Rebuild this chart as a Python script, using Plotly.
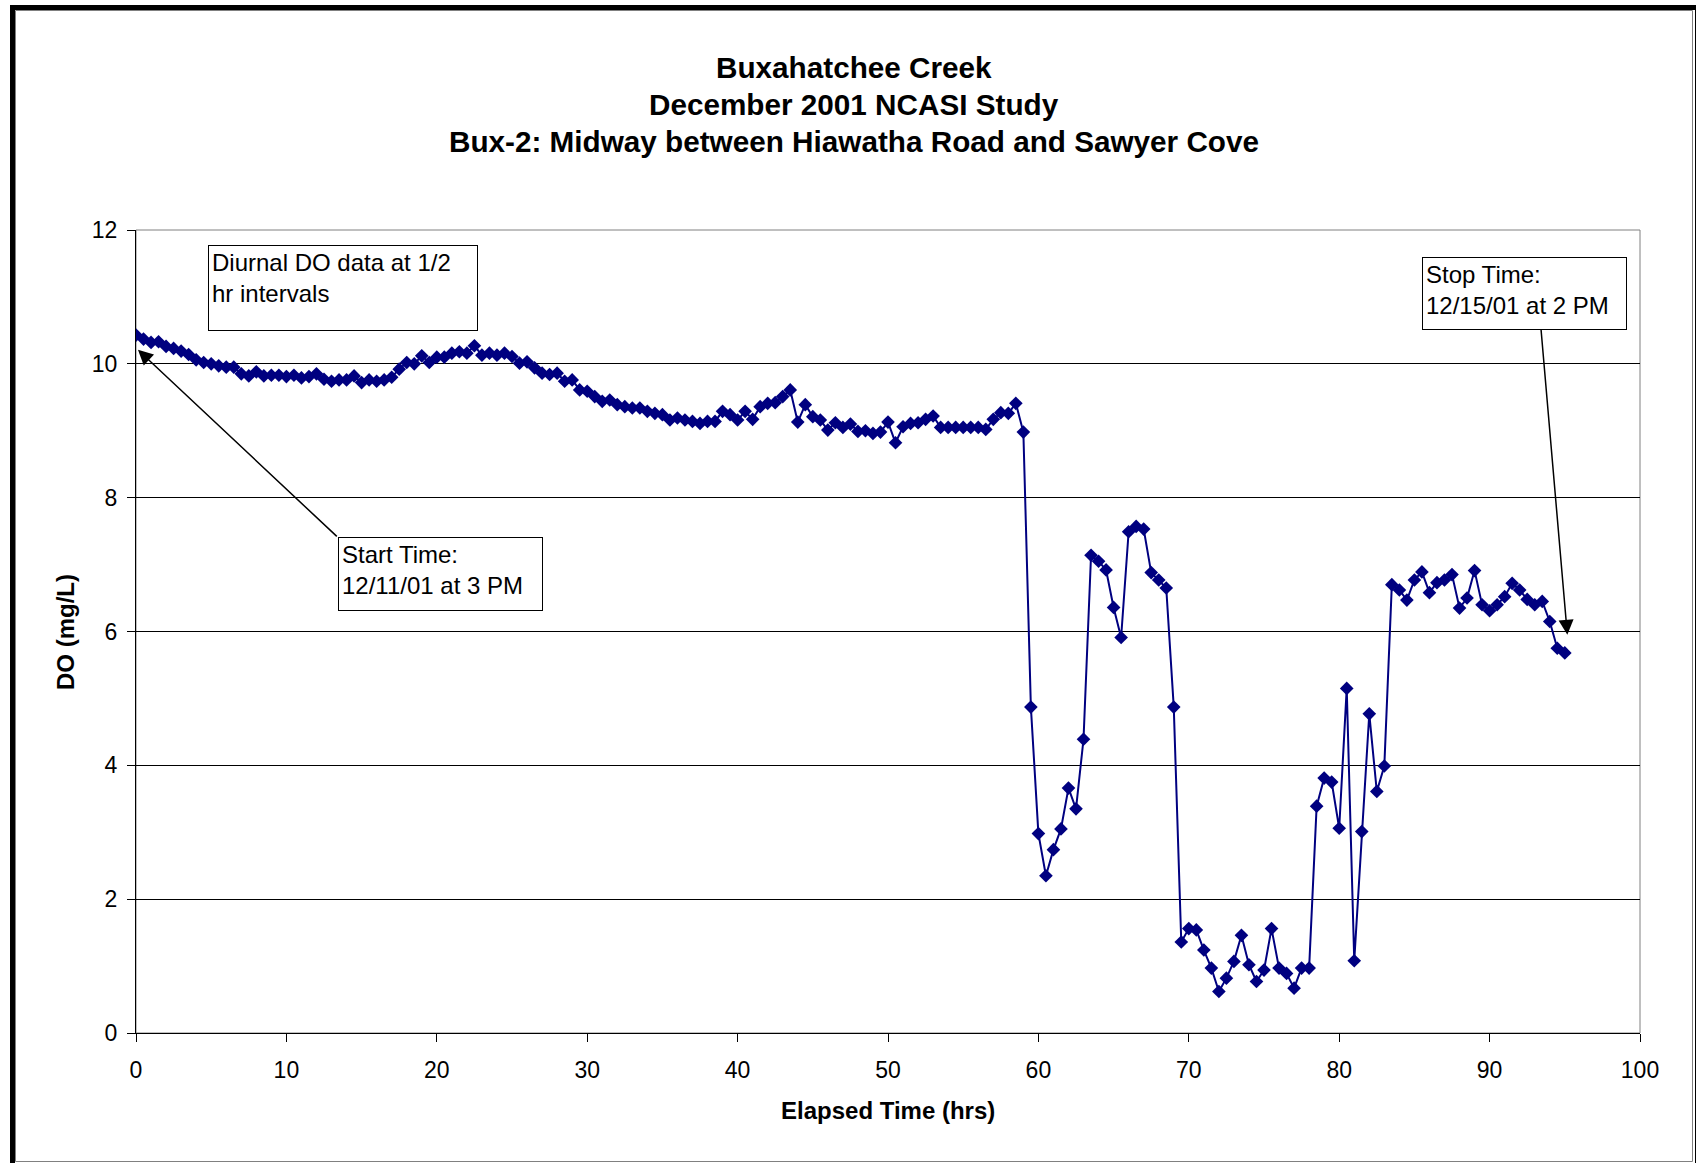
import plotly.graph_objects as go

# Dissolved oxygen logged every 1/2 hour at Bux-2, starting 12/11/01 3 PM
do_mg_l = [
    10.43, 10.37, 10.32, 10.33, 10.26, 10.23, 10.19, 10.14, 10.06, 10.02,
    10.00, 9.97, 9.95, 9.95, 9.85, 9.82, 9.88, 9.82, 9.83, 9.83,
    9.81, 9.83, 9.79, 9.81, 9.85, 9.77, 9.74, 9.76, 9.76, 9.82,
    9.72, 9.76, 9.74, 9.76, 9.80, 9.92, 10.02, 10.00, 10.12, 10.02,
    10.10, 10.10, 10.16, 10.18, 10.16, 10.27, 10.13, 10.16, 10.13, 10.16,
    10.11, 10.01, 10.03, 9.94, 9.86, 9.84, 9.86, 9.74, 9.76, 9.61,
    9.59, 9.51, 9.44, 9.46, 9.39, 9.36, 9.34, 9.34, 9.29, 9.26,
    9.24, 9.16, 9.19, 9.16, 9.14, 9.11, 9.14, 9.14, 9.29, 9.24,
    9.16, 9.29, 9.17, 9.36, 9.41, 9.42, 9.51, 9.61, 9.13, 9.39,
    9.21, 9.16, 9.01, 9.12, 9.05, 9.10, 8.99, 9.00, 8.96, 8.98,
    9.13, 8.82, 9.06, 9.11, 9.12, 9.17, 9.22, 9.05, 9.05, 9.05,
    9.05, 9.05, 9.05, 9.02, 9.17, 9.27, 9.26, 9.41, 8.98, 4.87,
    2.98, 2.35, 2.74, 3.05, 3.66, 3.35, 4.39, 7.14, 7.05, 6.92,
    6.36, 5.91, 7.49, 7.57, 7.53, 6.88, 6.77, 6.65, 4.87, 1.36,
    1.56, 1.54, 1.24, 0.97, 0.62, 0.82, 1.07, 1.46, 1.02, 0.77,
    0.94, 1.56, 0.97, 0.89, 0.67, 0.97, 0.97, 3.39, 3.81, 3.75,
    3.06, 5.15, 1.08, 3.01, 4.77, 3.61, 3.99, 6.70, 6.62, 6.47,
    6.77, 6.89, 6.58, 6.73, 6.77, 6.85, 6.35, 6.50, 6.91, 6.40,
    6.31, 6.40, 6.52, 6.72, 6.62, 6.48, 6.40, 6.45, 6.15, 5.75,
    5.68,
]
SAMPLE_INTERVAL_HRS = 0.5
elapsed_hrs = [i * SAMPLE_INTERVAL_HRS for i in range(len(do_mg_l))]

x_ticks = [0, 10, 20, 30, 40, 50, 60, 70, 80, 90, 100]
y_ticks = [0, 2, 4, 6, 8, 10, 12]

title_lines = [
    "Buxahatchee Creek",
    "December 2001 NCASI Study",
    "Bux-2: Midway between Hiawatha Road and Sawyer Cove",
]

FONT = "Liberation Sans, Arial, Helvetica, sans-serif"
NAVY = "#000080"

W, H = 1696, 1163
ML, MR, MT, MB = 136, 56, 230, 130
PW = W - ML - MR
PH = H - MT - MB


def px(xp):
    """Page pixel x -> paper fraction."""
    return (xp - ML) / PW


def py(yp):
    """Page pixel y -> paper fraction."""
    return (H - MB - yp) / PH


fig = go.Figure()
fig.add_trace(go.Scatter(
    x=elapsed_hrs, y=do_mg_l, mode="lines+markers",
    line=dict(color=NAVY, width=2),
    marker=dict(symbol="diamond", size=10.5, color=NAVY, line=dict(width=0)),
    showlegend=False, hoverinfo="x+y",
))

annotations = []
# chart title, one annotation per line
for text, yp in zip(title_lines, [67, 104, 141]):
    annotations.append(dict(
        text=f"<b>{text}</b>", xref="paper", yref="paper",
        x=px(854), y=py(yp), xanchor="center", yanchor="middle",
        showarrow=False, font=dict(family=FONT, size=29.7, color="black"),
    ))

# axis titles
annotations.append(dict(
    text="<b>Elapsed Time (hrs)</b>", xref="paper", yref="paper",
    x=px(888), y=py(1110), xanchor="center", yanchor="middle",
    showarrow=False, font=dict(family=FONT, size=24, color="black"),
))
annotations.append(dict(
    text="<b>DO (mg/L)</b>", xref="paper", yref="paper",
    x=px(65), y=py(632), xanchor="center", yanchor="middle",
    textangle=-90, showarrow=False,
    font=dict(family=FONT, size=24, color="black"),
))

# text boxes: (text, left, top, width, height) in page pixels
boxes = [
    ("Diurnal DO data at 1/2<br>hr intervals", 208, 245, 268, 84),
    ("Start Time:<br>12/11/01 at 3 PM", 338, 537, 203, 72),
    ("Stop Time:<br>12/15/01 at 2 PM", 1422, 257, 203, 71),
]
for text, left, top, bw, bh in boxes:
    annotations.append(dict(
        text=text, xref="paper", yref="paper",
        x=px(left), y=py(top), xanchor="left", yanchor="top",
        width=bw - 6, height=bh - 6, align="left", valign="top",
        showarrow=False, bordercolor="black", borderwidth=1, borderpad=3,
        bgcolor="white", font=dict(family=FONT, size=24, color="black"),
    ))

# pointer arrows from the start/stop boxes to the first/last readings
arrows = [
    (0.13, 10.21, 13.45, 7.40),
    (95.17, 5.95, 93.41, 10.54),
]
for hx, hy, tx, ty in arrows:
    annotations.append(dict(
        text="", x=hx, y=hy, ax=tx, ay=ty, xref="x", yref="y",
        axref="x", ayref="y", showarrow=True, arrowhead=2,
        arrowsize=2, arrowwidth=1.5, arrowcolor="black", standoff=0,
    ))

shapes = [
    # plot-area border
    dict(type="rect", xref="paper", yref="paper", x0=0, y0=0, x1=1, y1=1,
         line=dict(color="#808080", width=1), layer="between"),
    # chart frame
    dict(type="rect", xref="paper", yref="paper",
         x0=px(12.5), y0=py(7.5), x1=px(1697.5), y1=py(1166),
         line=dict(color="black", width=5), layer="above"),
    dict(type="rect", xref="paper", yref="paper",
         x0=px(15.5), y0=py(10.5), x1=px(1692.5), y1=py(1161.5),
         line=dict(color="#808080", width=1), layer="above"),
]

fig.update_layout(
    width=W, height=H,
    margin=dict(l=ML, r=MR, t=MT, b=MB, pad=0),
    paper_bgcolor="white", plot_bgcolor="white",
    font=dict(family=FONT, color="black"),
    annotations=annotations, shapes=shapes,
    xaxis=dict(
        range=[0, 100], tickvals=x_ticks, ticks="outside", ticklen=8,
        tickcolor="black", tickwidth=1, showline=True, linecolor="black",
        linewidth=1, showgrid=False, zeroline=False,
        tickfont=dict(family=FONT, size=23, color="black"),
        ticklabelstandoff=8,
    ),
    yaxis=dict(
        range=[0, 12], tickvals=y_ticks, ticks="outside", ticklen=8,
        tickcolor="black", tickwidth=1, showline=True, linecolor="black",
        linewidth=1, showgrid=True, gridcolor="black", gridwidth=1,
        zeroline=False, tickfont=dict(family=FONT, size=23, color="black"),
        ticklabelstandoff=5,
    ),
)

fig.write_html("out.html")
